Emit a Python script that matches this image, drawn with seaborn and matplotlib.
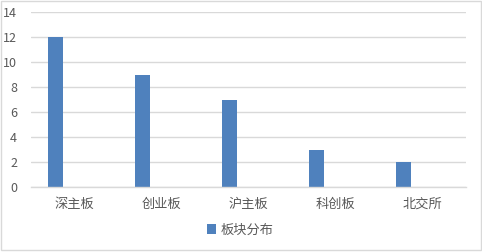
import matplotlib
matplotlib.use("Agg")
import matplotlib.pyplot as plt
import seaborn as sns
import pandas as pd
from matplotlib.patches import Rectangle, Patch

# Listings by board
categories = ["深主板", "创业板", "沪主板", "科创板", "北交所"]
counts = [12, 9, 7, 3, 2]
series_name = "板块分布"
y_ticks = [0, 2, 4, 6, 8, 10, 12, 14]

sns.set_theme(style="white")
plt.rcParams["font.family"] = ["Noto Sans CJK SC", "DejaVu Sans"]

bar_color = "#4F81BD"
text_color = "#595959"
grid_color = "#D9D9D9"

df = pd.DataFrame({"板块": categories, "数量": counts, "系列": series_name})

fig = plt.figure(figsize=(4.82, 2.52), dpi=100)
ax = fig.add_axes([31 / 482, 65 / 252, 435 / 482, 175 / 252])

# Clustered layout with a reserved empty second slot, bars sit left of centre
sns.barplot(
    data=df, x="板块", y="数量", hue="系列",
    hue_order=[series_name, " "], order=categories,
    palette=[bar_color, bar_color], width=0.88, gap=0.59,
    dodge=True, legend=False, ax=ax, saturation=1, linewidth=0,
)

ax.set_ylim(0, 14)
ax.set_yticks(y_ticks)
ax.set_xlim(-0.5, len(categories) - 0.5)
ax.yaxis.grid(True, color=grid_color, linewidth=1)
ax.set_axisbelow(True)
for side in ["top", "right", "left"]:
    ax.spines[side].set_visible(False)
ax.spines["bottom"].set_color(grid_color)
ax.spines["bottom"].set_linewidth(1)
ax.tick_params(axis="both", length=0, colors=text_color, labelsize=9)
ax.tick_params(axis="x", pad=8, labelsize=9.5)
ax.tick_params(axis="y", pad=10)
ax.set_xlabel("")
ax.set_ylabel("")

handle = Patch(facecolor=bar_color, edgecolor="none")
fig.legend(
    [handle], [series_name], loc="center", bbox_to_anchor=(240 / 482, 1 - 230 / 252),
    frameon=False, fontsize=9.5, labelcolor=text_color,
    handlelength=0.7, handleheight=0.7, handletextpad=0.3,
)

# Chart frame
fig.patches.append(Rectangle((0.5 / 482, 2.5 / 252), 480 / 482, 249 / 252,
                             transform=fig.transFigure, fill=False,
                             edgecolor=grid_color, linewidth=1))

fig.savefig("out.png", dpi=100)
